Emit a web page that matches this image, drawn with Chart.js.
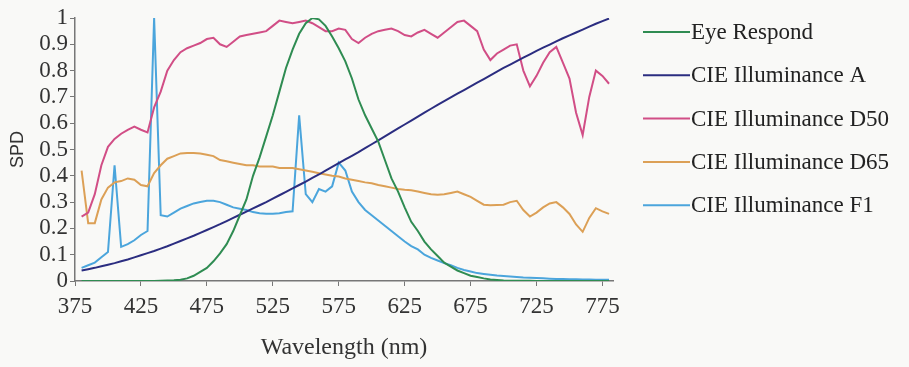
<!DOCTYPE html>
<html>
<head>
<meta charset="utf-8">
<script src="https://cdn.jsdelivr.net/npm/chart.js@4.4.1/dist/chart.umd.min.js"></script>
<style>
  html, body { margin: 0; padding: 0; background: #f9f9f7; }
  #wrap { width: 909px; height: 367px; }
</style>
</head>
<body>
<div id="wrap"><canvas id="c" width="909" height="367"></canvas></div>
<script>
const wavelengths = [
  380,385,390,395,400,405,410,415,420,425,
  430,435,440,445,450,455,460,465,470,475,
  480,485,490,495,500,505,510,515,520,525,
  530,535,540,545,550,555,560,565,570,575,
  580,585,590,595,600,605,610,615,620,625,
  630,635,640,645,650,655,660,665,670,675,
  680,685,690,695,700,705,710,715,720,725,
  730,735,740,745,750,755,760,765,770,775,
  780
];
const seriesNames = ["Eye Respond","CIE Illuminance A","CIE Illuminance D50","CIE Illuminance D65","CIE Illuminance F1"];
const eyeRespond = [
  0,0,0,0,0,0,0,0,0,0,
  0,0,0.001,0.002,0.003,0.005,0.01,0.02,0.035,0.05,
  0.075,0.105,0.14,0.19,0.25,0.31,0.40,0.47,0.55,0.63,
  0.72,0.81,0.88,0.94,0.98,1.0,0.995,0.97,0.93,0.885,
  0.835,0.77,0.69,0.63,0.58,0.53,0.46,0.39,0.34,0.28,
  0.225,0.19,0.15,0.12,0.095,0.07,0.055,0.04,0.03,0.02,
  0.015,0.01,0.006,0.004,0.002,0.001,0.001,0.001,0.001,0,
  0,0,0,0,0,0,0,0,0,0,
  0
];
const illumA = [
  0.04,0.045,0.05,0.056,0.062,0.068,0.075,0.082,0.09,0.098,
  0.106,0.114,0.123,0.132,0.142,0.152,0.162,0.172,0.183,0.194,
  0.205,0.216,0.228,0.24,0.252,0.264,0.276,0.288,0.30,0.313,
  0.326,0.339,0.352,0.365,0.378,0.392,0.405,0.42,0.434,0.448,
  0.462,0.476,0.49,0.505,0.52,0.535,0.55,0.565,0.58,0.595,
  0.61,0.625,0.64,0.655,0.67,0.684,0.698,0.712,0.726,0.74,
  0.754,0.768,0.782,0.796,0.81,0.823,0.836,0.849,0.862,0.875,
  0.887,0.899,0.911,0.923,0.934,0.945,0.956,0.967,0.978,0.988,
  0.998
];
const illumD50 = [
  0.245,0.26,0.33,0.44,0.51,0.54,0.56,0.575,0.587,0.575,
  0.565,0.66,0.72,0.80,0.84,0.87,0.885,0.895,0.905,0.92,
  0.925,0.90,0.89,0.91,0.93,0.935,0.94,0.945,0.95,0.97,
  0.99,0.985,0.98,0.985,0.99,0.98,0.965,0.95,0.95,0.96,
  0.955,0.92,0.905,0.925,0.94,0.95,0.955,0.96,0.95,0.935,
  0.93,0.945,0.955,0.94,0.925,0.945,0.965,0.985,0.99,0.97,
  0.95,0.88,0.84,0.865,0.88,0.895,0.9,0.80,0.74,0.78,
  0.83,0.87,0.89,0.83,0.77,0.64,0.555,0.70,0.80,0.78,
  0.75
];
const illumD65 = [
  0.42,0.22,0.22,0.31,0.355,0.375,0.38,0.39,0.385,0.365,
  0.36,0.41,0.44,0.465,0.475,0.485,0.487,0.487,0.485,0.48,
  0.475,0.46,0.455,0.45,0.445,0.44,0.44,0.435,0.435,0.435,
  0.43,0.43,0.43,0.425,0.42,0.415,0.41,0.405,0.40,0.397,
  0.39,0.385,0.38,0.375,0.372,0.365,0.36,0.355,0.35,0.347,
  0.345,0.34,0.335,0.33,0.328,0.33,0.335,0.34,0.33,0.32,
  0.305,0.29,0.288,0.289,0.29,0.30,0.305,0.27,0.245,0.26,
  0.28,0.295,0.30,0.28,0.255,0.215,0.187,0.24,0.277,0.265,
  0.255
];
const illumF1 = [
  0.05,0.06,0.07,0.09,0.11,0.44,0.13,0.14,0.155,0.175,
  0.19,1.0,0.25,0.245,0.26,0.275,0.285,0.295,0.30,0.305,
  0.305,0.30,0.29,0.28,0.275,0.27,0.262,0.258,0.256,0.256,
  0.258,0.262,0.265,0.63,0.33,0.30,0.35,0.34,0.36,0.45,
  0.42,0.34,0.30,0.27,0.25,0.23,0.21,0.19,0.17,0.15,
  0.133,0.12,0.10,0.088,0.078,0.068,0.06,0.05,0.042,0.036,
  0.03,0.027,0.024,0.021,0.019,0.017,0.015,0.013,0.012,0.011,
  0.01,0.009,0.008,0.008,0.007,0.007,0.006,0.006,0.005,0.005,
  0.005
];
const xTickValues = [375,425,475,525,575,625,675,725,775];
const yTickValues = [0,0.1,0.2,0.3,0.4,0.5,0.6,0.7,0.8,0.9,1];

const colors = ["#2f8c52","#2b2d80","#d14e86","#dca056","#4ba5dc"];
const allSeries = [eyeRespond, illumA, illumD50, illumD65, illumF1];

const datasets = allSeries.map((vals, i) => ({
  label: seriesNames[i],
  data: wavelengths.map((w, k) => ({x: w, y: vals[k]})),
  borderColor: colors[i],
  backgroundColor: colors[i],
  borderWidth: 2,
  pointRadius: 0,
  tension: 0,
  fill: false
}));

const serif = "'Liberation Serif', 'Times New Roman', serif";

const legendPlugin = {
  id: 'sideLegend',
  afterDraw(chart) {
    const ctx = chart.ctx;
    ctx.save();
    ctx.font = "23px " + serif;
    ctx.textBaseline = 'middle';
    ctx.textAlign = 'left';
    chart.data.datasets.forEach((ds, i) => {
      const y = 32 + i * 43.3;
      ctx.strokeStyle = ds.borderColor;
      ctx.lineWidth = 2;
      ctx.beginPath();
      ctx.moveTo(643, y);
      ctx.lineTo(690, y);
      ctx.stroke();
      ctx.fillStyle = '#222';
      ctx.fillText(ds.label, 691, y + 1);
    });
    ctx.restore();
  }
};

new Chart(document.getElementById('c'), {
  type: 'line',
  data: { datasets },
  plugins: [legendPlugin],
  options: {
    responsive: false,
    animation: false,
    layout: { padding: { top: 18, right: 296, left: 0, bottom: 0 } },
    plugins: { legend: { display: false }, tooltip: { enabled: false } },
    scales: {
      x: {
        type: 'linear',
        min: 375,
        max: 783,
        afterBuildTicks: s => { s.ticks = xTickValues.map(v => ({value: v})); },
        afterFit: s => { s.height = 86; },
        grid: { display: true, drawOnChartArea: false, tickLength: 5, color: '#777' },
        border: { color: '#777', width: 1.5 },
        ticks: { font: { family: serif, size: 23 }, color: '#333', padding: 7, maxRotation: 0, autoSkip: false,
                 callback: v => String(v) },
        title: { display: true, text: 'Wavelength (nm)', font: { family: serif, size: 24 }, color: '#333',
                 padding: { top: 0, bottom: 5 } }
      },
      y: {
        min: 0,
        max: 1,
        afterBuildTicks: s => { s.ticks = yTickValues.map(v => ({value: v})); },
        afterFit: s => { s.width = 75; },
        grid: { display: true, drawOnChartArea: false, tickLength: 5, color: '#777' },
        border: { color: '#777', width: 1.5 },
        ticks: { font: { family: serif, size: 23 }, color: '#333', padding: 2, autoSkip: false,
                 callback: v => String(Math.round(v * 10) / 10) },
        title: { display: true, text: 'SPD', font: { family: "'Liberation Sans', Arial, sans-serif", size: 18 }, color: '#333',
                 padding: { top: 7, bottom: 0 } }
      }
    }
  }
});
</script>
</body>
</html>
